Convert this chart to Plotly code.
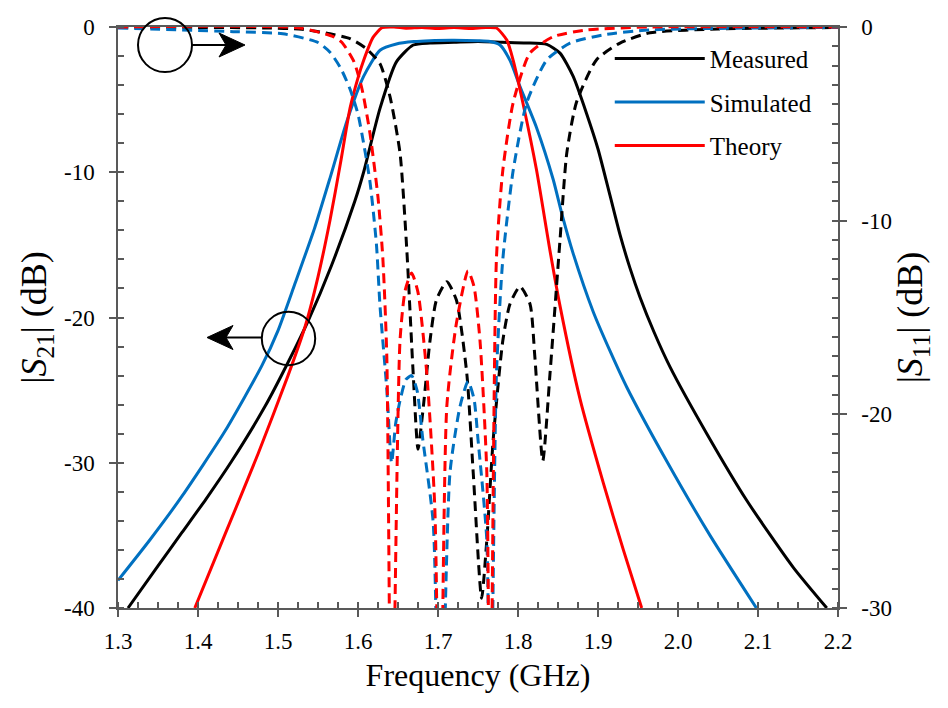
import plotly.graph_objects as go

# ---------------- data ----------------
# |S21| (dB), left axis
meas_s21_f = [1.3125, 1.35, 1.38, 1.41, 1.442, 1.484, 1.5125, 1.538, 1.567, 1.596, 1.607,
              1.6275, 1.648, 1.669, 1.69, 1.72, 1.75, 1.78, 1.81, 1.836, 1.8525, 1.869,
              1.886, 1.90, 1.915, 1.9275, 1.94, 1.9525, 1.97, 1.99, 2.036, 2.086, 2.144, 2.186]
meas_s21_db = [-40.0, -37.1, -34.8, -32.5, -29.9, -26.1, -23.1, -20.2, -16.4, -12.0, -10.0,
               -5.6, -2.4, -1.24, -1.1, -1.05, -1.0, -1.05, -1.1, -1.2, -1.8, -3.4,
               -6.0, -8.4, -11.6, -14.3, -16.6, -18.6, -21.0, -23.4, -28.0, -32.6, -37.2, -40.0]

sim_s21_f = [1.3, 1.34, 1.38, 1.434, 1.48, 1.5, 1.521, 1.546, 1.565, 1.586, 1.607, 1.6275,
             1.648, 1.67, 1.69, 1.72, 1.75, 1.765, 1.7775, 1.79, 1.8025, 1.823, 1.844,
             1.855, 1.869, 1.894, 1.915, 1.936, 1.986, 2.04, 2.098]
sim_s21_db = [-38.1, -35.3, -32.3, -27.8, -23.3, -20.9, -17.7, -13.8, -10.4, -6.5, -3.4, -1.6,
              -1.17, -1.0, -0.94, -0.92, -0.95, -1.0, -1.24, -2.3, -4.1, -6.9, -10.5,
              -12.9, -15.6, -19.6, -22.3, -24.8, -29.9, -35.0, -40.0]

theo_s21_f = [1.396, 1.434, 1.475, 1.5125, 1.534, 1.55, 1.565, 1.578, 1.59, 1.60, 1.607,
              1.619, 1.63, 1.645, 1.66, 1.68, 1.70, 1.72, 1.74, 1.76, 1.773, 1.786, 1.794,
              1.806, 1.823, 1.84, 1.8525, 1.8775, 1.9067, 1.9317, 1.9546]
theo_s21_db = [-40.0, -34.9, -29.4, -24.0, -20.6, -17.2, -13.3, -9.4, -5.6, -3.5, -2.3,
               -0.7, -0.05, 0.0, -0.08, -0.03, -0.1, -0.04, -0.1, -0.03, -0.07, -0.9, -2.3,
               -5.2, -9.8, -15.4, -19.2, -25.6, -31.4, -36.0, -40.0]

# |S11| (dB), right axis
meas_s11_f = [1.3, 1.4, 1.486, 1.53, 1.565, 1.59, 1.61, 1.6275, 1.64, 1.6525, 1.661, 1.669,
              1.675, 1.6817, 1.69, 1.698, 1.711, 1.723, 1.736, 1.744, 1.7545, 1.761, 1.769,
              1.781, 1.79, 1.8025, 1.815, 1.821, 1.831, 1.84, 1.8525, 1.861, 1.873, 1.898,
              1.9275, 1.965, 2.05, 2.2]
meas_s11_db = [-0.0, -0.02, -0.05, -0.12, -0.35, -0.6, -1.1, -1.9, -3.6, -6.5, -11.5, -17.9,
               -21.8, -19.6, -16.2, -14.1, -13.15, -14.1, -17.9, -23.0, -29.5, -26.5, -21.3,
               -16.2, -14.3, -13.4, -14.3, -17.0, -22.4, -17.9, -11.0, -6.5, -3.9, -1.7,
               -0.83, -0.3, -0.1, -0.03]

sim_s11_f = [1.3, 1.444, 1.506, 1.55, 1.565, 1.578, 1.59, 1.60, 1.607, 1.615, 1.623, 1.6275,
             1.636, 1.642, 1.647, 1.6525, 1.66, 1.667, 1.674, 1.681, 1.694, 1.7025, 1.715,
             1.7275, 1.7375, 1.745, 1.75, 1.761, 1.765, 1.773, 1.781, 1.794, 1.811, 1.836,
             1.865, 1.906, 1.965, 2.2]
sim_s11_db = [-0.05, -0.24, -0.35, -0.8, -1.3, -2.1, -3.2, -4.5, -6.0, -8.0, -11.2, -14.4,
              -18.7, -22.5, -20.5, -19.3, -18.2, -18.0, -18.8, -21.3, -25.6, -40.0, -23.0,
              -19.6, -18.3, -19.2, -21.3, -26.5, -40.0, -18.0, -12.0, -7.4, -3.9, -1.7,
              -0.83, -0.41, -0.15, -0.02]

theo_s11_f = [1.3, 1.5275, 1.569, 1.58, 1.595, 1.605, 1.615, 1.625, 1.631, 1.636, 1.642,
              1.6525, 1.659, 1.667, 1.675, 1.686, 1.696, 1.7025, 1.711, 1.723, 1.7375,
              1.745, 1.7525, 1.761, 1.765, 1.773, 1.781, 1.794, 1.815, 1.844, 1.886, 1.965, 2.2]
theo_s11_db = [0.0, -0.05, -0.5, -0.8, -1.8, -3.2, -5.5, -8.8, -11.9, -17.0, -40.0,
               -16.2, -13.6, -12.7, -13.7, -17.9, -24.8, -40.0, -19.6, -15.3, -12.6,
               -13.4, -16.2, -23.0, -40.0, -12.0, -7.4, -3.9, -1.34, -0.5, -0.15, 0.0, 0.0]

series_names = ["Measured", "Simulated", "Theory"]
series_colors = ["#000000", "#0070C0", "#FF0000"]

x_tickvals = [1.3, 1.4, 1.5, 1.6, 1.7, 1.8, 1.9, 2.0, 2.1, 2.2]
x_ticktext = ["1.3", "1.4", "1.5", "1.6", "1.7", "1.8", "1.9", "2.0", "2.1", "2.2"]
yl_tickvals = [-40, -30, -20, -10, 0]
yl_ticktext = ["-40", "-30", "-20", "-10", "0"]
yr_tickvals = [-30, -20, -10, 0]
yr_ticktext = ["-30", "-20", "-10", "0"]

# ---------------- figure ----------------
FONT = "Times New Roman, Liberation Serif, DejaVu Serif, serif"
AX = "#595959"
DASH = "10px,6px"
TICKSIZE = 23
YTITLE = 36
XTITLE = 32

W, H = 948, 708
ML, MR, MT, MB = 118, 110, 27, 100
PW, PH = W - ML - MR, H - MT - MB


def px(xp):  # pixel x -> paper x (annotation decoration only)
    return (xp - ML) / PW


def py(yp):  # pixel y -> paper y
    return (H - MB - yp) / PH


fig = go.Figure()

s11 = [(meas_s11_f, meas_s11_db), (sim_s11_f, sim_s11_db), (theo_s11_f, theo_s11_db)]
s21 = [(meas_s21_f, meas_s21_db), (sim_s21_f, sim_s21_db), (theo_s21_f, theo_s21_db)]

for (f, v), name, col in zip(s11, series_names, series_colors):
    fig.add_trace(go.Scatter(x=f, y=v, yaxis="y2", mode="lines", name=name + " S11",
                             showlegend=False,
                             line=dict(color=col, width=3, dash=DASH, shape="spline",
                                       smoothing=0.6)))

for (f, v), name, col in zip(s21, series_names, series_colors):
    fig.add_trace(go.Scatter(x=f, y=v, mode="lines", name=name, legendgroup=name,
                             line=dict(color=col, width=3, shape="spline", smoothing=0.6)))


def circle(cx, cy, r):
    return dict(type="circle", xref="paper", yref="paper",
                x0=px(cx - r), x1=px(cx + r), y0=py(cy + r), y1=py(cy - r),
                line=dict(color="black", width=2), layer="above")


def arrow(x_tail, x_tip, y, head_len=26, half_w=12, notch=7):
    d = 1 if x_tip > x_tail else -1
    x_back = x_tip - d * head_len
    x_notch = x_back + d * notch
    line = dict(type="line", xref="paper", yref="paper",
                x0=px(x_tail), x1=px(x_notch), y0=py(y), y1=py(y),
                line=dict(color="black", width=2), layer="above")
    path = "M {},{} L {},{} L {},{} L {},{} Z".format(
        px(x_tip), py(y), px(x_back), py(y - half_w), px(x_notch), py(y),
        px(x_back), py(y + half_w))
    head = dict(type="path", xref="paper", yref="paper", path=path,
                fillcolor="black", line=dict(color="black", width=1), layer="above")
    return [line, head]


shapes = [circle(165, 45, 27), circle(288.5, 338.5, 26.7)]
shapes += arrow(192, 245, 45)
shapes += arrow(262, 207, 337.5)

axis_common = dict(ticks="outside", ticklen=7, tickwidth=1.5, tickcolor=AX,
                   showline=True, linecolor=AX, linewidth=1.5,
                   showgrid=False, zeroline=False, tickmode="array",
                   tickfont=dict(size=TICKSIZE, family=FONT))

fig.update_layout(
    width=W, height=H,
    margin=dict(l=ML, r=MR, t=MT, b=MB),
    paper_bgcolor="white", plot_bgcolor="white",
    font=dict(family=FONT, color="black", size=20),
    showlegend=True,
    legend=dict(x=0.683, y=0.985, xanchor="left", yanchor="top",
                bgcolor="rgba(0,0,0,0)", font=dict(size=25, family=FONT),
                itemwidth=90, tracegroupgap=8),
    xaxis=dict(range=[1.3, 2.2], tickvals=x_tickvals, ticktext=x_ticktext, mirror=True,
               minor=dict(tickmode="linear", tick0=1.3, dtick=0.025, ticks="inside",
                          ticklen=6, tickwidth=1.5, tickcolor=AX),
               ticklabelstandoff=5,
               title=dict(text="Frequency (GHz)", font=dict(size=XTITLE, family=FONT),
                          standoff=10),
               **axis_common),
    yaxis=dict(range=[-40, 0], tickvals=yl_tickvals, ticktext=yl_ticktext,
               minor=dict(tickmode="linear", tick0=0, dtick=2, ticks="inside",
                          ticklen=6, tickwidth=1.5, tickcolor=AX),
               ticklabelstandoff=10,
               title=dict(text="|<i>S</i><sub>21</sub>| (dB)",
                          font=dict(size=YTITLE, family=FONT), standoff=6),
               **axis_common),
    yaxis2=dict(range=[-30, 0], overlaying="y", side="right", anchor="x",
                tickvals=yr_tickvals, ticktext=yr_ticktext,
                minor=dict(tickmode="linear", tick0=0, dtick=1, ticks="inside",
                           ticklen=6, tickwidth=1.5, tickcolor=AX),
                ticklabelstandoff=10,
                title=dict(text="|<i>S</i><sub>11</sub>| (dB)",
                           font=dict(size=YTITLE, family=FONT), standoff=6),
                **axis_common),
    shapes=shapes,
)

fig.write_html("out.html")
